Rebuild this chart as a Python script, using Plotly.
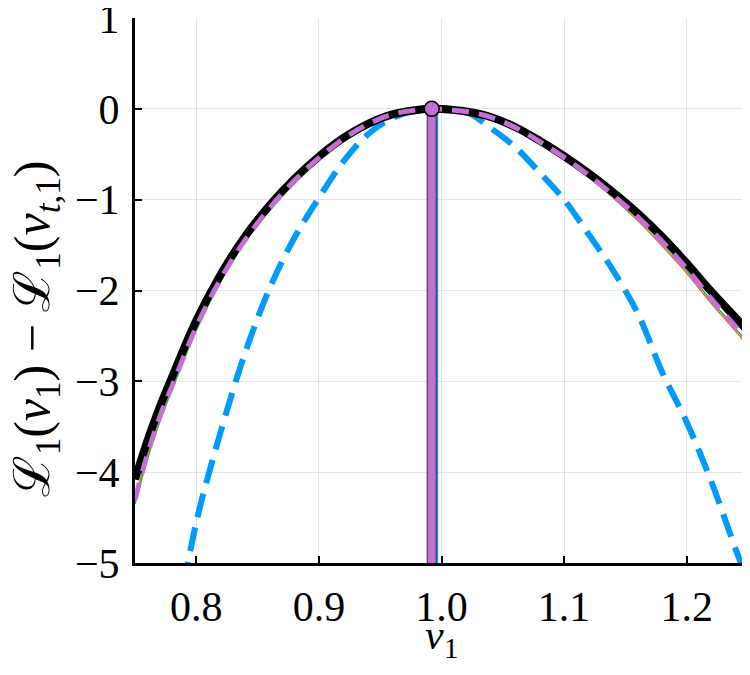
import plotly.graph_objects as go

# grid of v_1 values
v = [0.75, 0.76, 0.77, 0.78, 0.80, 0.82, 0.84, 0.86, 0.88, 0.90, 0.92, 0.94,
     0.96, 0.98, 0.992, 1.00, 1.02, 1.04, 1.06, 1.08, 1.10, 1.12, 1.14, 1.16,
     1.18, 1.20, 1.22, 1.24, 1.25]

# exact log-likelihood difference (black)
exact = [-4.08, -3.66, -3.29, -2.96, -2.33, -1.82, -1.40, -1.06, -0.77, -0.525,
         -0.32, -0.165, -0.06, -0.012, 0.0, -0.003, -0.03, -0.09, -0.20, -0.35,
         -0.52, -0.71, -0.92, -1.15, -1.41, -1.70, -2.01, -2.30, -2.45]

# approximation (purple dashed)
approx = [-4.30, -3.81, -3.40, -3.06, -2.40, -1.87, -1.44, -1.09, -0.79, -0.54,
          -0.33, -0.168, -0.06, -0.012, 0.0, -0.003, -0.03, -0.09, -0.205, -0.36,
          -0.535, -0.73, -0.95, -1.19, -1.46, -1.76, -2.09, -2.40, -2.56]

# thin companion curves (green, orange)
green = [-4.35, -3.86, -3.45, -3.10, -2.44, -1.90, -1.46, -1.10, -0.80, -0.545,
         -0.33, -0.168, -0.06, -0.012, 0.0, -0.003, -0.03, -0.09, -0.205, -0.36,
         -0.54, -0.74, -0.96, -1.20, -1.48, -1.78, -2.11, -2.42, -2.58]
orange = [-4.30, -3.81, -3.40, -3.06, -2.40, -1.87, -1.44, -1.09, -0.79, -0.54,
          -0.33, -0.168, -0.06, -0.012, 0.0, -0.003, -0.03, -0.09, -0.21, -0.37,
          -0.55, -0.75, -0.98, -1.23, -1.51, -1.81, -2.14, -2.45, -2.61]

# quadratic-ish approximation (blue dashed)
v_quad = [0.79, 0.80, 0.82, 0.84, 0.86, 0.88, 0.90, 0.92, 0.94, 0.96, 0.98,
          0.9965, 1.02, 1.04, 1.06, 1.08, 1.10, 1.12, 1.14, 1.16, 1.18, 1.20,
          1.22, 1.24, 1.25]
quad = [-5.25, -4.55, -3.55, -2.68, -1.97, -1.42, -0.98, -0.58, -0.28, -0.10,
        -0.015, 0.0, -0.03, -0.21, -0.42, -0.70, -1.0, -1.38, -1.78, -2.25,
        -2.90, -3.45, -4.10, -4.85, -5.2]

v_max = 0.992      # maximiser of the exact curve
v_max_quad = 0.9965
y_bottom = -5.3

purple = '#C271D2'
blue = '#009AFA'
serif = 'Liberation Serif'

fig = go.Figure()

fig.add_trace(go.Scatter(x=v_quad, y=quad, mode='lines', line_shape='spline',
                         line=dict(color=blue, width=6, dash='24px,11px')))
fig.add_trace(go.Scatter(x=v, y=orange, mode='lines', line_shape='spline',
                         line=dict(color='#E26F46', width=1.5)))
fig.add_trace(go.Scatter(x=v, y=green, mode='lines', line_shape='spline',
                         line=dict(color='#3DA44D', width=1.5)))
fig.add_trace(go.Scatter(x=v, y=exact, mode='lines', line_shape='spline',
                         line=dict(color='black', width=8)))
fig.add_trace(go.Scatter(x=v, y=approx, mode='lines', line_shape='spline',
                         line=dict(color=purple, width=5, dash='17px,10px')))

# vertical lines at the maximisers
fig.add_trace(go.Scatter(x=[v_max_quad, v_max_quad], y=[0, y_bottom],
                         mode='lines', line=dict(color=blue, width=2)))
fig.add_trace(go.Scatter(x=[v_max, v_max], y=[0, y_bottom],
                         mode='lines', line=dict(color='#333333', width=10)))
fig.add_trace(go.Scatter(x=[v_max, v_max], y=[0, y_bottom],
                         mode='lines', line=dict(color=purple, width=8)))
fig.add_trace(go.Scatter(x=[v_max], y=[0], mode='markers',
                         marker=dict(color=purple, size=15,
                                     line=dict(color='black', width=1.5))))

tick_font = dict(family=serif, size=42, color='black')

# the page body adds an 8px margin, so the figure is drawn smaller
# (keeps the page from overflowing and showing a scrollbar)
fig.update_layout(
    width=742, height=659,
    showlegend=False,
    plot_bgcolor='white', paper_bgcolor='white',
    margin=dict(l=127, r=2, t=10, b=104),
    font=tick_font,
    annotations=[
        dict(text='<i>v</i><sub>1</sub>', xref='paper', yref='paper',
             x=0.5, y=-0.138, xanchor='center', yanchor='middle',
             showarrow=False, font=dict(family=serif, size=42, color='black')),
        dict(text='ℒ<sub>1</sub>(<i>v</i><sub>1</sub>) − '
                  'ℒ<sub>1</sub>(<i>v</i><sub><i>t</i>,1</sub>)',
             xref='paper', yref='paper', x=-0.162, y=0.43, textangle=-90,
             xanchor='center', yanchor='middle',
             showarrow=False, font=dict(family=serif, size=50, color='black')),
    ],
)
fig.update_xaxes(
    range=[0.75, 1.25], automargin=False,
    tickvals=[0.8, 0.9, 1.0, 1.1, 1.2],
    ticktext=['0.8', '0.9', '1.0', '1.1', '1.2'],
    ticks='inside', ticklen=7, tickwidth=2, tickcolor='black',
    showline=True, linecolor='black', linewidth=3, mirror=False,
    showgrid=True, gridcolor='rgba(0,0,0,0.1)', gridwidth=1,
    zeroline=False, tickfont=tick_font, ticklabelstandoff=5,
    ticklabeloverflow='allow',
)
fig.update_yaxes(
    range=[-5, 1], automargin=False,
    tickvals=[-5, -4, -3, -2, -1, 0, 1],
    ticks='inside', ticklen=7, tickwidth=2, tickcolor='black',
    showline=True, linecolor='black', linewidth=3, mirror=False,
    showgrid=True, gridcolor='rgba(0,0,0,0.1)', gridwidth=1,
    zeroline=False, tickfont=tick_font, ticklabelstandoff=4,
    ticklabeloverflow='allow',
)

fig.write_html("out.html")
